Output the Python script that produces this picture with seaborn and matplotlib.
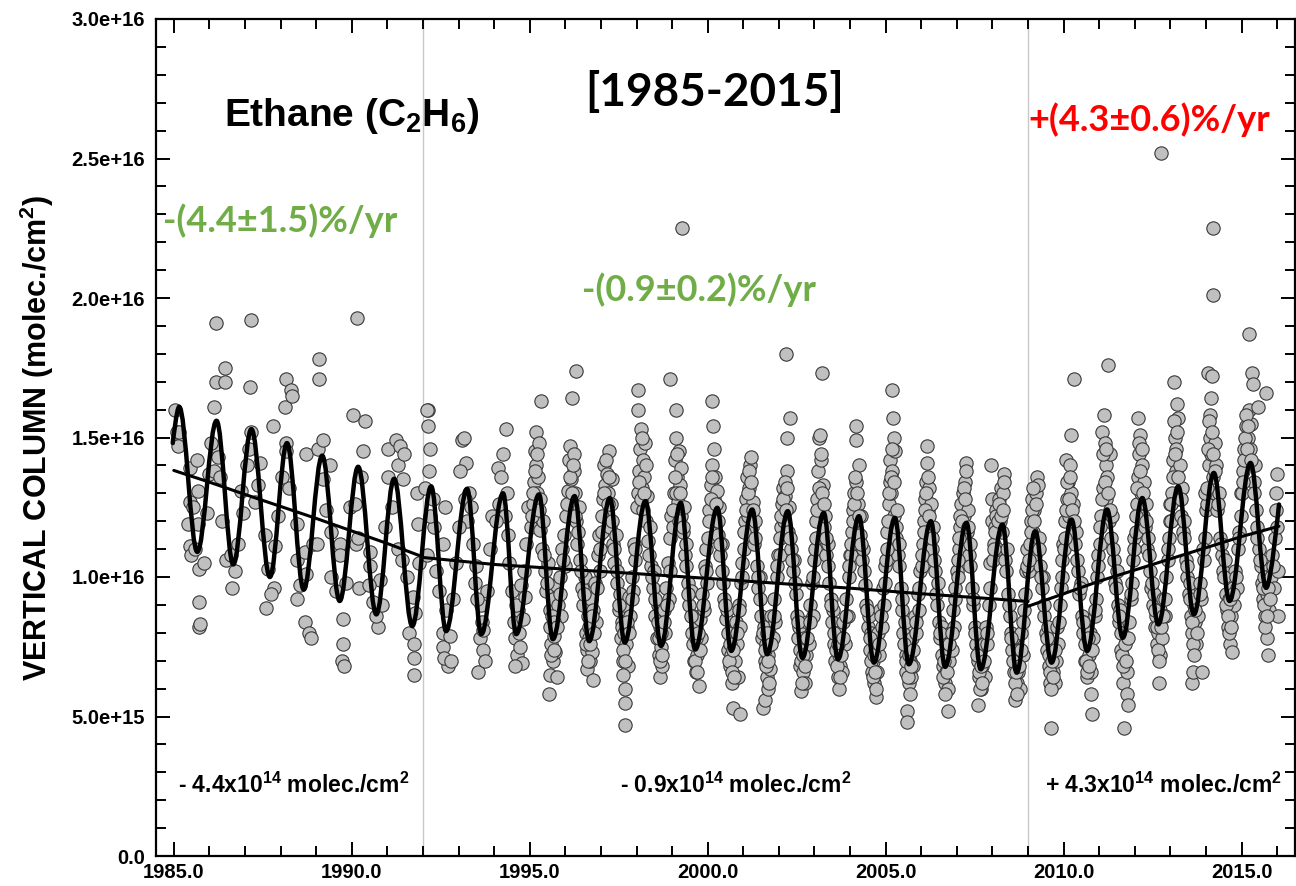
import matplotlib
matplotlib.use("Agg")
import matplotlib.pyplot as plt
from matplotlib.path import Path
from matplotlib.patches import PathPatch
from matplotlib.ticker import MultipleLocator
import pandas as pd
import seaborn as sns

sns.set_theme(style="ticks")
plt.rcParams["font.family"] = ["Liberation Sans", "DejaVu Sans"]
plt.rcParams["mathtext.fontset"] = "custom"
plt.rcParams["mathtext.rm"] = "Liberation Sans:bold"
plt.rcParams["mathtext.it"] = "Liberation Sans:bold"
plt.rcParams["mathtext.bf"] = "Liberation Sans:bold"
plt.rcParams["text.color"] = "black"
plt.rcParams["axes.labelcolor"] = "black"
plt.rcParams["xtick.color"] = "black"
plt.rcParams["ytick.color"] = "black"

# ethane vertical columns, units of 1e16 molec./cm2 (decimal year, value)
obs_1985_1991 = [
    (1985.03, 1.60), (1985.08, 1.52), (1985.15, 1.52), (1985.12, 1.47), (1985.40, 1.19),
    (1985.45, 1.39), (1985.45, 1.27), (1985.45, 1.11), (1985.47, 1.08), (1985.66, 1.42),
    (1985.68, 1.31), (1985.68, 1.19), (1985.70, 1.03), (1985.70, 0.91), (1985.70, 0.82),
    (1985.73, 0.83), (1985.60, 1.10), (1985.55, 1.25), (1985.85, 1.05), (1985.92, 1.23),
    (1985.98, 1.37),
    (1986.13, 1.61), (1986.14, 1.47), (1986.13, 1.38), (1986.25, 1.43), (1986.18, 1.91),
    (1986.18, 1.70), (1986.43, 1.70), (1986.45, 1.75), (1986.46, 1.06), (1986.64, 0.96),
    (1986.60, 1.08), (1986.72, 1.02), (1986.95, 1.23), (1986.30, 1.36), (1986.35, 1.20),
    (1986.80, 1.12), (1986.05, 1.48), (1986.90, 1.31),
    (1987.13, 1.68), (1987.18, 1.92), (1987.10, 1.46), (1987.18, 1.52), (1987.42, 1.41),
    (1987.37, 1.33), (1987.79, 1.54), (1987.81, 0.96), (1987.84, 1.11), (1987.65, 1.03),
    (1987.72, 0.94), (1987.55, 1.15), (1987.28, 1.27), (1987.05, 1.40), (1987.92, 1.22),
    (1987.60, 0.89),
    (1988.12, 1.61), (1988.16, 1.48), (1988.15, 1.45), (1988.15, 1.71), (1988.30, 1.67),
    (1988.31, 1.65), (1988.71, 1.44), (1988.45, 1.19), (1988.45, 1.06), (1988.45, 0.92),
    (1988.68, 1.09), (1988.68, 0.84), (1988.80, 0.80), (1988.72, 1.01), (1988.55, 0.97),
    (1988.25, 1.32), (1988.90, 1.12), (1988.05, 1.36), (1988.85, 0.78),
    (1989.05, 1.46), (1989.19, 1.49), (1989.07, 1.78), (1989.07, 1.71), (1989.38, 1.40),
    (1989.19, 1.35), (1989.01, 1.12), (1989.43, 1.16), (1989.66, 1.12), (1989.66, 1.08),
    (1989.43, 1.00), (1989.74, 0.85), (1989.72, 0.70), (1989.74, 0.76), (1989.78, 0.68),
    (1989.55, 0.95), (1989.85, 0.98), (1989.95, 1.25), (1989.28, 1.24),
    (1990.15, 1.93), (1990.04, 1.58), (1990.37, 1.56), (1990.32, 1.45), (1990.08, 1.26),
    (1990.13, 1.12), (1990.18, 1.14), (1990.20, 0.96), (1990.50, 1.09), (1990.50, 1.04),
    (1990.79, 0.99), (1990.49, 0.97), (1990.74, 0.82), (1990.68, 0.86), (1990.85, 0.90),
    (1990.25, 1.36), (1990.92, 1.18), (1990.60, 0.91),
    (1991.02, 1.46), (1991.25, 1.49), (1991.30, 1.40), (1991.02, 1.36), (1991.44, 1.35),
    (1991.82, 1.30), (1991.85, 1.19), (1991.30, 1.10), (1991.40, 1.06), (1991.54, 1.00),
    (1991.72, 0.93), (1991.77, 0.87), (1991.61, 0.80), (1991.74, 0.71), (1991.74, 0.65),
    (1991.74, 0.76), (1991.12, 1.25), (1991.90, 1.05), (1991.35, 1.47), (1991.48, 1.44),
]

obs_1992_1996 = [
    (1992.14, 1.60), (1992.15, 1.54), (1992.19, 1.46), (1992.17, 1.38), (1992.12, 1.60),
    (1992.10, 1.08), (1992.38, 1.02), (1992.56, 1.12), (1992.61, 1.25), (1992.56, 0.80),
    (1992.56, 0.75), (1992.70, 0.68), (1992.58, 0.71), (1992.78, 0.70), (1992.05, 1.32),
    (1992.28, 1.28), (1992.32, 1.18), (1992.45, 0.95), (1992.66, 0.88), (1992.85, 0.92),
    (1992.92, 1.05), (1992.20, 1.22), (1992.75, 0.79),
    (1993.10, 1.49), (1993.20, 1.41), (1993.15, 1.50), (1993.05, 1.38), (1993.30, 1.30),
    (1993.25, 1.20), (1993.40, 1.12), (1993.48, 1.04), (1993.56, 0.66), (1993.60, 0.78),
    (1993.66, 0.84), (1993.70, 0.74), (1993.62, 0.90), (1993.80, 0.95), (1993.88, 1.10),
    (1993.95, 1.22), (1993.18, 1.28), (1993.35, 1.25), (1993.52, 0.92), (1993.75, 0.70),
    (1993.45, 0.98), (1993.02, 1.18), (1993.68, 0.81),
    (1994.33, 1.53), (1994.25, 1.44), (1994.10, 1.39), (1994.20, 1.36), (1994.15, 1.26),
    (1994.30, 1.22), (1994.38, 1.15), (1994.42, 1.05), (1994.50, 0.95), (1994.55, 0.84),
    (1994.60, 0.78), (1994.65, 0.72), (1994.70, 0.80), (1994.78, 0.69), (1994.68, 0.88),
    (1994.75, 0.97), (1994.85, 1.02), (1994.90, 1.12), (1994.95, 1.25), (1994.05, 1.20),
    (1994.58, 0.68), (1994.62, 0.90), (1994.80, 0.85), (1994.35, 1.30), (1994.88, 0.93),
    (1994.72, 0.75),
    (1995.04, 1.18), (1995.08, 1.26), (1995.12, 1.34), (1995.15, 1.45), (1995.18, 1.52),
    (1995.19, 1.40), (1995.20, 1.30), (1995.22, 1.22), (1995.24, 1.36), (1995.26, 1.48),
    (1995.28, 1.17), (1995.30, 1.28), (1995.33, 1.63), (1995.35, 1.10), (1995.38, 1.20),
    (1995.42, 1.02), (1995.46, 0.95), (1995.50, 1.05), (1995.54, 0.58), (1995.56, 0.65),
    (1995.58, 0.88), (1995.60, 0.76), (1995.62, 0.82), (1995.64, 0.70), (1995.66, 0.92),
    (1995.68, 0.79), (1995.70, 0.73), (1995.72, 0.85), (1995.74, 0.97), (1995.76, 0.64),
    (1995.80, 0.90), (1995.84, 1.00), (1995.88, 0.86), (1995.92, 1.10), (1995.96, 1.15),
    (1995.98, 1.04),
    (1996.03, 1.22), (1996.07, 1.31), (1996.10, 1.42), (1996.14, 1.47), (1996.17, 1.35),
    (1996.20, 1.64), (1996.21, 1.26), (1996.23, 1.44), (1996.25, 1.38), (1996.27, 1.30),
    (1996.29, 1.74), (1996.31, 1.20), (1996.34, 1.12), (1996.38, 1.25), (1996.42, 1.06),
    (1996.46, 0.96), (1996.50, 0.90), (1996.54, 1.00), (1996.57, 0.80), (1996.60, 0.67),
    (1996.62, 0.74), (1996.64, 0.86), (1996.66, 0.78), (1996.69, 0.70), (1996.71, 0.92),
    (1996.73, 0.81), (1996.77, 0.63), (1996.79, 0.88), (1996.83, 0.98), (1996.87, 0.84),
    (1996.91, 1.08), (1996.95, 1.15), (1996.98, 1.02), (1996.75, 0.73),
]

obs_1997_2001 = [
    (1997.03, 1.16), (1997.06, 1.28), (1997.09, 1.40), (1997.11, 1.33), (1997.14, 1.22),
    (1997.17, 1.37), (1997.20, 1.30), (1997.23, 1.45), (1997.25, 1.18), (1997.28, 1.26),
    (1997.31, 1.35), (1997.34, 1.12), (1997.38, 1.05), (1997.42, 1.15), (1997.46, 0.98),
    (1997.50, 0.88), (1997.54, 0.94), (1997.57, 0.78), (1997.60, 0.84), (1997.63, 0.70),
    (1997.65, 0.90), (1997.67, 0.55), (1997.67, 0.47), (1997.68, 0.60), (1997.70, 0.76),
    (1997.72, 0.82), (1997.75, 0.68), (1997.78, 0.93), (1997.82, 0.86), (1997.86, 1.00),
    (1997.90, 0.95), (1997.94, 1.12), (1997.97, 1.06), (1997.61, 0.65),
    (1998.02, 1.25), (1998.04, 1.60), (1998.05, 1.67), (1998.07, 1.38), (1998.10, 1.46),
    (1998.13, 1.53), (1998.15, 1.32), (1998.17, 1.42), (1998.19, 1.24), (1998.22, 1.36),
    (1998.25, 1.48), (1998.27, 1.20), (1998.30, 1.29), (1998.33, 1.13), (1998.37, 1.18),
    (1998.41, 1.04), (1998.45, 0.96), (1998.49, 1.02), (1998.53, 0.86), (1998.57, 0.78),
    (1998.60, 0.90), (1998.63, 0.72), (1998.65, 0.64), (1998.67, 0.82), (1998.70, 0.75),
    (1998.73, 0.68), (1998.76, 0.88), (1998.80, 0.80), (1998.84, 0.96), (1998.88, 1.05),
    (1998.91, 0.92), (1998.93, 1.71), (1998.95, 1.14), (1998.98, 1.22),
    (1999.02, 1.18), (1999.05, 1.30), (1999.08, 1.42), (1999.10, 1.50), (1999.12, 1.60),
    (1999.14, 1.36), (1999.16, 1.27), (1999.19, 1.45), (1999.21, 1.33), (1999.24, 1.22),
    (1999.26, 1.39), (1999.28, 2.25), (1999.30, 1.16), (1999.33, 1.25), (1999.36, 1.08),
    (1999.40, 1.12), (1999.44, 0.98), (1999.48, 0.90), (1999.52, 0.95), (1999.55, 0.80),
    (1999.58, 0.86), (1999.61, 0.70), (1999.63, 0.76), (1999.66, 0.66), (1999.68, 0.82),
    (1999.71, 0.72), (1999.75, 0.61), (1999.77, 0.85), (1999.81, 0.78), (1999.85, 0.94),
    (1999.89, 0.88), (1999.93, 1.04), (1999.96, 1.10), (1999.99, 0.98),
    (2000.02, 1.14), (2000.05, 1.24), (2000.08, 1.33), (2000.11, 1.40), (2000.12, 1.63),
    (2000.15, 1.54), (2000.17, 1.28), (2000.20, 1.36), (2000.23, 1.20), (2000.26, 1.31),
    (2000.29, 1.15), (2000.32, 1.25), (2000.35, 1.08), (2000.39, 1.12), (2000.43, 0.98),
    (2000.47, 0.92), (2000.51, 0.85), (2000.55, 0.88), (2000.58, 0.74), (2000.61, 0.80),
    (2000.63, 0.68), (2000.66, 0.72), (2000.68, 0.62), (2000.71, 0.53), (2000.73, 0.78),
    (2000.76, 0.70), (2000.79, 0.84), (2000.83, 0.76), (2000.87, 0.90), (2000.90, 0.82),
    (2000.92, 0.51), (2000.94, 0.98), (2000.97, 1.05), (2000.85, 0.64),
    (2001.02, 1.10), (2001.05, 1.20), (2001.08, 1.28), (2001.11, 1.36), (2001.14, 1.22),
    (2001.17, 1.32), (2001.20, 1.40), (2001.23, 1.43), (2001.25, 1.18), (2001.28, 1.27),
    (2001.31, 1.12), (2001.34, 1.20), (2001.38, 1.04), (2001.42, 0.96), (2001.46, 1.00),
    (2001.50, 0.86), (2001.53, 0.78), (2001.55, 0.53), (2001.58, 0.82), (2001.60, 0.56),
    (2001.62, 0.70), (2001.65, 0.76), (2001.67, 0.64), (2001.70, 0.72), (2001.73, 0.80),
    (2001.76, 0.67), (2001.79, 0.86), (2001.83, 0.78), (2001.87, 0.92), (2001.90, 0.84),
    (2001.94, 1.00), (2001.97, 1.08), (2001.68, 0.60),
]

obs_2002_2006 = [
    (2002.02, 1.08), (2002.05, 1.18), (2002.08, 1.26), (2002.11, 1.32), (2002.14, 1.20),
    (2002.17, 1.29), (2002.20, 1.80), (2002.22, 1.38), (2002.23, 1.50), (2002.26, 1.16),
    (2002.29, 1.25), (2002.32, 1.57), (2002.35, 1.10), (2002.39, 1.02), (2002.43, 1.06),
    (2002.47, 0.94), (2002.51, 0.86), (2002.54, 0.78), (2002.57, 0.82), (2002.60, 0.68),
    (2002.63, 0.59), (2002.65, 0.74), (2002.68, 0.66), (2002.71, 0.78), (2002.74, 0.62),
    (2002.77, 0.72), (2002.80, 0.84), (2002.84, 0.76), (2002.88, 0.90), (2002.92, 0.98),
    (2002.95, 0.86), (2002.98, 1.06),
    (2003.02, 1.10), (2003.05, 1.20), (2003.08, 1.28), (2003.11, 1.38), (2003.14, 1.50),
    (2003.16, 1.51), (2003.18, 1.42), (2003.20, 1.73), (2003.22, 1.25), (2003.24, 1.33),
    (2003.27, 1.18), (2003.30, 1.22), (2003.33, 1.08), (2003.37, 1.12), (2003.41, 0.98),
    (2003.45, 0.92), (2003.49, 0.84), (2003.53, 0.88), (2003.56, 0.76), (2003.59, 0.70),
    (2003.62, 0.80), (2003.65, 0.64), (2003.68, 0.72), (2003.70, 0.60), (2003.72, 0.68),
    (2003.75, 0.78), (2003.78, 0.66), (2003.81, 0.84), (2003.85, 0.76), (2003.89, 0.92),
    (2003.93, 0.86), (2003.96, 1.00), (2003.99, 1.08),
    (2004.02, 1.08), (2004.05, 1.16), (2004.08, 1.24), (2004.11, 1.30), (2004.14, 1.20),
    (2004.16, 1.49), (2004.17, 1.54), (2004.18, 1.34), (2004.21, 1.26), (2004.24, 1.40),
    (2004.27, 1.15), (2004.30, 1.22), (2004.33, 1.06), (2004.37, 1.10), (2004.41, 0.97),
    (2004.45, 0.90), (2004.49, 0.82), (2004.53, 0.86), (2004.56, 0.74), (2004.59, 0.80),
    (2004.62, 0.66), (2004.65, 0.70), (2004.68, 0.62), (2004.70, 0.76), (2004.72, 0.57),
    (2004.75, 0.66), (2004.78, 0.80), (2004.81, 0.72), (2004.85, 0.88), (2004.89, 0.82),
    (2004.93, 0.96), (2004.96, 0.90), (2004.99, 1.04),
    (2005.02, 1.06), (2005.05, 1.16), (2005.08, 1.26), (2005.11, 1.34), (2005.13, 1.42),
    (2005.15, 1.30), (2005.17, 1.67), (2005.19, 1.38), (2005.21, 1.57), (2005.22, 1.50),
    (2005.24, 1.22), (2005.26, 1.45), (2005.28, 1.14), (2005.31, 1.24), (2005.34, 1.08),
    (2005.38, 1.12), (2005.42, 0.96), (2005.46, 0.88), (2005.50, 0.80), (2005.53, 0.84),
    (2005.56, 0.72), (2005.58, 0.66), (2005.60, 0.52), (2005.61, 0.48), (2005.63, 0.76),
    (2005.66, 0.62), (2005.69, 0.70), (2005.72, 0.64), (2005.75, 0.78), (2005.78, 0.68),
    (2005.82, 0.86), (2005.86, 0.80), (2005.90, 0.94), (2005.94, 0.88), (2005.97, 1.02),
    (2006.02, 1.04), (2006.05, 1.12), (2006.08, 1.20), (2006.11, 1.28), (2006.13, 1.34),
    (2006.15, 1.41), (2006.17, 1.47), (2006.19, 1.24), (2006.22, 1.32), (2006.25, 1.16),
    (2006.28, 1.26), (2006.31, 1.10), (2006.34, 1.18), (2006.38, 1.02), (2006.42, 0.94),
    (2006.46, 0.98), (2006.50, 0.84), (2006.54, 0.78), (2006.57, 0.82), (2006.60, 0.68),
    (2006.63, 0.72), (2006.66, 0.62), (2006.69, 0.66), (2006.72, 0.74), (2006.74, 0.60),
    (2006.76, 0.52), (2006.79, 0.70), (2006.82, 0.80), (2006.86, 0.74), (2006.90, 0.88),
    (2006.93, 0.82), (2006.96, 0.96), (2006.99, 1.02),
]

obs_2007_2011 = [
    (2007.02, 1.00), (2007.05, 1.10), (2007.08, 1.18), (2007.11, 1.26), (2007.14, 1.14),
    (2007.17, 1.30), (2007.20, 1.22), (2007.23, 1.34), (2007.26, 1.41), (2007.27, 1.38),
    (2007.28, 1.16), (2007.31, 1.24), (2007.34, 1.08), (2007.38, 1.12), (2007.42, 0.96),
    (2007.46, 0.90), (2007.50, 0.82), (2007.54, 0.76), (2007.58, 0.54), (2007.60, 0.70),
    (2007.63, 0.64), (2007.66, 0.74), (2007.69, 0.60), (2007.72, 0.68), (2007.75, 0.76),
    (2007.78, 0.64), (2007.82, 0.82), (2007.86, 0.76), (2007.90, 0.90), (2007.93, 1.05),
    (2007.96, 1.40), (2007.98, 1.20), (2007.99, 1.28),
    (2008.02, 1.06), (2008.05, 1.12), (2008.08, 1.18), (2008.11, 1.24), (2008.14, 1.10),
    (2008.17, 1.28), (2008.20, 1.20), (2008.23, 1.32), (2008.26, 1.16), (2008.29, 1.30),
    (2008.32, 1.37), (2008.33, 1.34), (2008.36, 1.06), (2008.40, 1.10), (2008.44, 0.94),
    (2008.48, 0.86), (2008.52, 0.80), (2008.55, 0.74), (2008.58, 0.78), (2008.61, 0.66),
    (2008.64, 0.56), (2008.66, 0.70), (2008.69, 0.62), (2008.72, 0.66), (2008.75, 0.74),
    (2008.78, 0.60), (2008.81, 0.80), (2008.85, 0.72), (2008.89, 0.88), (2008.92, 0.94),
    (2008.95, 1.02), (2008.98, 1.10),
    (2009.02, 1.02), (2009.05, 1.12), (2009.08, 1.20), (2009.11, 1.28), (2009.14, 1.16),
    (2009.17, 1.24), (2009.20, 1.08), (2009.23, 1.30), (2009.26, 1.36), (2009.28, 1.33),
    (2009.31, 1.14), (2009.34, 1.04), (2009.38, 0.96), (2009.42, 1.00), (2009.46, 0.86),
    (2009.50, 0.80), (2009.53, 0.74), (2009.56, 0.82), (2009.59, 0.68), (2009.62, 0.62),
    (2009.64, 0.46), (2009.66, 0.72), (2009.69, 0.66), (2009.72, 0.76), (2009.75, 0.62),
    (2009.78, 0.70), (2009.81, 0.82), (2009.85, 0.76), (2009.89, 0.90), (2009.92, 0.96),
    (2009.95, 1.06), (2009.98, 1.12),
    (2010.02, 1.10), (2010.05, 1.20), (2010.06, 1.42), (2010.09, 1.28), (2010.12, 1.34),
    (2010.15, 1.22), (2010.17, 1.40), (2010.20, 1.30), (2010.22, 1.51), (2010.25, 1.18),
    (2010.27, 1.26), (2010.29, 1.71), (2010.32, 1.12), (2010.36, 1.16), (2010.40, 1.02),
    (2010.44, 0.94), (2010.48, 0.98), (2010.52, 0.86), (2010.55, 0.80), (2010.58, 0.84),
    (2010.61, 0.70), (2010.64, 0.76), (2010.67, 0.64), (2010.70, 0.72), (2010.73, 0.80),
    (2010.76, 0.66), (2010.78, 0.58), (2010.80, 0.51), (2010.83, 0.78), (2010.87, 0.86),
    (2010.90, 0.92), (2010.94, 1.00), (2010.97, 1.08),
    (2011.02, 1.12), (2011.05, 1.22), (2011.08, 1.52), (2011.10, 1.32), (2011.13, 1.58),
    (2011.16, 1.48), (2011.18, 1.40), (2011.20, 1.28), (2011.23, 1.36), (2011.25, 1.76),
    (2011.27, 1.20), (2011.30, 1.44), (2011.33, 1.14), (2011.37, 1.22), (2011.41, 1.06),
    (2011.45, 0.98), (2011.49, 1.02), (2011.53, 0.90), (2011.56, 0.84), (2011.59, 0.88),
    (2011.62, 0.74), (2011.65, 0.80), (2011.67, 0.62), (2011.69, 0.46), (2011.71, 0.70),
    (2011.74, 0.78), (2011.77, 0.66), (2011.79, 0.58), (2011.81, 0.54), (2011.84, 0.84),
    (2011.88, 0.92), (2011.92, 0.98), (2011.96, 1.06), (2011.99, 1.14),
]

obs_2012_2016 = [
    (2012.02, 1.16), (2012.05, 1.26), (2012.08, 1.36), (2012.10, 1.57), (2012.12, 1.44),
    (2012.14, 1.51), (2012.17, 1.30), (2012.20, 1.40), (2012.22, 1.22), (2012.25, 1.34),
    (2012.28, 1.18), (2012.31, 1.26), (2012.34, 1.10), (2012.38, 1.14), (2012.42, 1.02),
    (2012.46, 0.96), (2012.50, 0.90), (2012.54, 0.94), (2012.57, 0.82), (2012.60, 0.86),
    (2012.63, 0.76), (2012.66, 0.80), (2012.68, 0.62), (2012.70, 0.72), (2012.72, 0.88),
    (2012.74, 2.52), (2012.77, 0.78), (2012.80, 0.92), (2012.84, 0.86), (2012.88, 1.00),
    (2012.92, 1.06), (2012.96, 1.14), (2012.99, 1.20),
    (2013.02, 1.20), (2013.05, 1.30), (2013.08, 1.42), (2013.10, 1.70), (2013.12, 1.50),
    (2013.15, 1.38), (2013.17, 1.46), (2013.19, 1.62), (2013.20, 1.57), (2013.23, 1.28),
    (2013.26, 1.40), (2013.29, 1.22), (2013.32, 1.32), (2013.35, 1.16), (2013.39, 1.20),
    (2013.43, 1.06), (2013.47, 1.00), (2013.51, 0.94), (2013.55, 0.98), (2013.58, 0.86),
    (2013.60, 0.80), (2013.62, 0.62), (2013.63, 0.66), (2013.65, 0.90), (2013.68, 0.84),
    (2013.71, 0.76), (2013.74, 0.92), (2013.78, 0.86), (2013.82, 0.98), (2013.86, 0.92),
    (2013.90, 0.66), (2013.93, 1.06), (2013.96, 1.14), (2013.99, 1.24),
    (2014.02, 1.26), (2014.05, 1.73), (2014.07, 1.40), (2014.10, 1.50), (2014.12, 1.58),
    (2014.14, 1.44), (2014.17, 1.72), (2014.19, 2.25), (2014.19, 2.01), (2014.21, 1.36),
    (2014.24, 1.48), (2014.26, 1.30), (2014.29, 1.40), (2014.32, 1.24), (2014.36, 1.30),
    (2014.40, 1.14), (2014.44, 1.08), (2014.48, 1.02), (2014.52, 1.06), (2014.55, 0.94),
    (2014.58, 0.88), (2014.61, 0.82), (2014.64, 0.92), (2014.66, 0.76), (2014.69, 0.86),
    (2014.72, 0.73), (2014.75, 0.96), (2014.78, 0.90), (2014.82, 1.02), (2014.86, 0.96),
    (2014.90, 1.10), (2014.94, 1.16), (2014.97, 1.22), (2014.99, 1.30),
    (2015.02, 1.30), (2015.05, 1.38), (2015.08, 1.46), (2015.11, 1.54), (2015.14, 1.42),
    (2015.17, 1.50), (2015.20, 1.60), (2015.22, 1.87), (2015.24, 1.46), (2015.27, 1.55),
    (2015.30, 1.73), (2015.32, 1.69), (2015.34, 1.34), (2015.37, 1.40), (2015.41, 1.24),
    (2015.44, 1.18), (2015.47, 1.61), (2015.50, 1.10), (2015.54, 1.04), (2015.57, 0.98),
    (2015.60, 0.92), (2015.63, 1.00), (2015.66, 0.86), (2015.69, 1.66), (2015.70, 0.78),
    (2015.72, 0.94), (2015.75, 0.72), (2015.78, 0.88), (2015.82, 1.00), (2015.86, 1.08),
    (2015.90, 0.96), (2015.94, 1.14), (2015.97, 1.24), (2016.00, 1.37), (2016.00, 1.18),
    (2016.01, 1.02), (2016.01, 0.86),
]

# denser measurement blobs hugging the seasonal cycle, 1995-2005
obs_dense_1995_2005 = [
    (1995.06, 1.22), (1995.10, 1.30), (1995.16, 1.38), (1995.21, 1.44), (1995.27, 1.24),
    (1995.40, 1.08), (1995.48, 0.98), (1995.57, 0.82), (1995.61, 0.72), (1995.63, 0.86),
    (1995.67, 0.74), (1995.69, 0.84), (1995.78, 0.82), (1995.86, 0.94), (1995.94, 1.06),
    (1996.05, 1.26), (1996.12, 1.36), (1996.18, 1.30), (1996.22, 1.40), (1996.26, 1.22),
    (1996.36, 1.16), (1996.44, 1.02), (1996.52, 0.94), (1996.59, 0.76), (1996.63, 0.70),
    (1996.67, 0.82), (1996.70, 0.76), (1996.74, 0.86), (1996.81, 0.80), (1996.89, 0.96),
    (1996.97, 1.10),
    (1997.04, 1.22), (1997.10, 1.30), (1997.15, 1.42), (1997.19, 1.26), (1997.24, 1.36),
    (1997.30, 1.20), (1997.36, 1.10), (1997.44, 1.02), (1997.52, 0.90), (1997.58, 0.82),
    (1997.62, 0.74), (1997.66, 0.80), (1997.69, 0.70), (1997.74, 0.84), (1997.80, 0.80),
    (1997.88, 0.92), (1997.96, 1.10),
    (1998.03, 1.30), (1998.08, 1.34), (1998.12, 1.28), (1998.16, 1.50), (1998.21, 1.30),
    (1998.28, 1.40), (1998.35, 1.08), (1998.43, 1.00), (1998.51, 0.92), (1998.59, 0.84),
    (1998.62, 0.78), (1998.66, 0.70), (1998.69, 0.80), (1998.72, 0.72), (1998.78, 0.84),
    (1998.86, 0.90), (1998.94, 1.02),
    (1999.03, 1.24), (1999.07, 1.36), (1999.11, 1.30), (1999.15, 1.44), (1999.18, 1.20),
    (1999.23, 1.30), (1999.32, 1.18), (1999.38, 1.04), (1999.46, 0.94), (1999.54, 0.86),
    (1999.60, 0.76), (1999.64, 0.70), (1999.67, 0.78), (1999.70, 0.66), (1999.73, 0.80),
    (1999.79, 0.74), (1999.87, 0.90), (1999.95, 1.02),
    (2000.04, 1.20), (2000.09, 1.28), (2000.13, 1.36), (2000.18, 1.46), (2000.22, 1.26),
    (2000.28, 1.20), (2000.34, 1.12), (2000.41, 1.02), (2000.49, 0.90), (2000.56, 0.80),
    (2000.60, 0.70), (2000.64, 0.76), (2000.67, 0.66), (2000.70, 0.74), (2000.74, 0.64),
    (2000.81, 0.80), (2000.89, 0.88), (2000.96, 1.00),
    (2001.03, 1.16), (2001.07, 1.24), (2001.12, 1.30), (2001.16, 1.38), (2001.21, 1.34),
    (2001.26, 1.24), (2001.33, 1.14), (2001.40, 1.00), (2001.48, 0.92), (2001.56, 0.80),
    (2001.61, 0.74), (2001.64, 0.68), (2001.66, 0.80), (2001.69, 0.70), (2001.72, 0.62),
    (2001.78, 0.76), (2001.86, 0.86), (2001.95, 1.04),
    (2002.03, 1.14), (2002.07, 1.22), (2002.12, 1.28), (2002.16, 1.34), (2002.19, 1.24),
    (2002.24, 1.32), (2002.31, 1.14), (2002.37, 1.06), (2002.45, 0.98), (2002.53, 0.84),
    (2002.59, 0.74), (2002.62, 0.70), (2002.66, 0.62), (2002.69, 0.72), (2002.73, 0.68),
    (2002.79, 0.78), (2002.87, 0.84), (2002.96, 1.00),
    (2003.03, 1.14), (2003.07, 1.24), (2003.12, 1.32), (2003.17, 1.44), (2003.21, 1.30),
    (2003.26, 1.26), (2003.32, 1.14), (2003.39, 1.04), (2003.47, 0.90), (2003.55, 0.80),
    (2003.60, 0.74), (2003.64, 0.68), (2003.67, 0.76), (2003.71, 0.64), (2003.74, 0.72),
    (2003.80, 0.78), (2003.88, 0.86), (2003.97, 1.04),
    (2004.03, 1.12), (2004.07, 1.20), (2004.12, 1.26), (2004.15, 1.36), (2004.20, 1.30),
    (2004.25, 1.22), (2004.32, 1.12), (2004.39, 1.02), (2004.47, 0.88), (2004.55, 0.78),
    (2004.60, 0.70), (2004.64, 0.64), (2004.67, 0.72), (2004.71, 0.66), (2004.74, 0.60),
    (2004.80, 0.76), (2004.88, 0.86), (2004.97, 0.98),
    (2005.03, 1.10), (2005.07, 1.20), (2005.10, 1.30), (2005.14, 1.36), (2005.18, 1.46),
    (2005.23, 1.34), (2005.30, 1.18), (2005.37, 1.04), (2005.45, 0.92), (2005.52, 0.76),
    (2005.57, 0.70), (2005.62, 0.64), (2005.65, 0.72), (2005.68, 0.58), (2005.71, 0.68),
    (2005.77, 0.74), (2005.85, 0.84), (2005.95, 0.96),
]

# denser measurement blobs, 2006-2015
obs_dense_2006_2015 = [
    (2006.03, 1.08), (2006.07, 1.16), (2006.10, 1.24), (2006.14, 1.30), (2006.18, 1.36),
    (2006.23, 1.22), (2006.30, 1.14), (2006.37, 1.06), (2006.45, 0.90), (2006.52, 0.80),
    (2006.58, 0.72), (2006.62, 0.64), (2006.65, 0.70), (2006.68, 0.58), (2006.71, 0.66),
    (2006.77, 0.76), (2006.85, 0.80), (2006.95, 0.92),
    (2007.03, 1.06), (2007.07, 1.14), (2007.10, 1.22), (2007.15, 1.20), (2007.19, 1.32),
    (2007.24, 1.28), (2007.30, 1.18), (2007.37, 1.04), (2007.45, 0.92), (2007.52, 0.80),
    (2007.57, 0.72), (2007.62, 0.66), (2007.65, 0.60), (2007.68, 0.68), (2007.71, 0.62),
    (2007.77, 0.70), (2007.85, 0.80), (2007.92, 0.96),
    (2008.03, 1.10), (2008.07, 1.16), (2008.10, 1.22), (2008.15, 1.20), (2008.19, 1.26),
    (2008.24, 1.22), (2008.30, 1.24), (2008.38, 1.02), (2008.46, 0.90), (2008.53, 0.78),
    (2008.59, 0.70), (2008.63, 0.62), (2008.67, 0.66), (2008.70, 0.58), (2008.74, 0.68),
    (2008.80, 0.74), (2008.87, 0.84), (2008.96, 1.04),
    (2009.03, 1.06), (2009.07, 1.16), (2009.10, 1.24), (2009.13, 1.32), (2009.18, 1.20),
    (2009.22, 1.26), (2009.30, 1.10), (2009.37, 1.00), (2009.44, 0.90), (2009.52, 0.78),
    (2009.58, 0.72), (2009.61, 0.66), (2009.65, 0.60), (2009.68, 0.70), (2009.71, 0.64),
    (2009.77, 0.74), (2009.86, 0.84), (2009.96, 1.00),
    (2010.03, 1.14), (2010.07, 1.24), (2010.10, 1.34), (2010.14, 1.28), (2010.18, 1.36),
    (2010.23, 1.24), (2010.30, 1.20), (2010.38, 1.06), (2010.46, 0.96), (2010.54, 0.84),
    (2010.60, 0.76), (2010.63, 0.70), (2010.66, 0.66), (2010.69, 0.78), (2010.72, 0.68),
    (2010.79, 0.74), (2010.88, 0.88), (2010.96, 1.04),
    (2011.03, 1.18), (2011.07, 1.28), (2011.11, 1.44), (2011.15, 1.34), (2011.19, 1.46),
    (2011.24, 1.30), (2011.31, 1.24), (2011.39, 1.10), (2011.47, 0.96), (2011.55, 0.86),
    (2011.61, 0.80), (2011.64, 0.72), (2011.68, 0.68), (2011.72, 0.76), (2011.75, 0.70),
    (2011.82, 0.78), (2011.90, 0.94), (2011.98, 1.10),
    (2012.03, 1.22), (2012.07, 1.32), (2012.11, 1.48), (2012.15, 1.38), (2012.19, 1.46),
    (2012.24, 1.30), (2012.32, 1.20), (2012.40, 1.08), (2012.48, 0.98), (2012.56, 0.88),
    (2012.62, 0.82), (2012.65, 0.74), (2012.69, 0.70), (2012.73, 0.82), (2012.78, 0.86),
    (2012.85, 0.92), (2012.94, 1.10), (2012.98, 1.26),
    (2013.03, 1.26), (2013.07, 1.36), (2013.11, 1.56), (2013.14, 1.44), (2013.18, 1.52),
    (2013.22, 1.36), (2013.30, 1.28), (2013.38, 1.14), (2013.46, 1.04), (2013.54, 0.92),
    (2013.61, 0.84), (2013.64, 0.76), (2013.67, 0.72), (2013.70, 0.88), (2013.76, 0.80),
    (2013.84, 0.94), (2013.92, 1.10), (2013.98, 1.30),
    (2014.03, 1.32), (2014.06, 1.46), (2014.09, 1.56), (2014.13, 1.64), (2014.16, 1.52),
    (2014.20, 1.44), (2014.25, 1.38), (2014.34, 1.26), (2014.42, 1.12), (2014.50, 1.00),
    (2014.57, 0.90), (2014.62, 0.86), (2014.65, 0.80), (2014.68, 0.92), (2014.71, 0.82),
    (2014.77, 0.94), (2014.84, 1.00), (2014.92, 1.14),
    (2015.03, 1.34), (2015.07, 1.42), (2015.10, 1.50), (2015.13, 1.58), (2015.16, 1.46),
    (2015.19, 1.54), (2015.26, 1.42), (2015.35, 1.30), (2015.43, 1.14), (2015.52, 1.06),
    (2015.59, 0.96), (2015.64, 0.90), (2015.67, 0.82), (2015.71, 0.86), (2015.74, 0.96),
    (2015.80, 0.92), (2015.88, 1.04), (2015.96, 1.30),
]

# seasonal fit: start, alternating maxima / minima, end
seas_t = [1984.97, 1985.15, 1985.66, 1986.20, 1986.67, 1987.18, 1987.70, 1988.18, 1988.65,
          1989.17, 1989.66, 1990.18, 1990.69, 1991.19, 1991.70, 1992.23, 1992.65, 1993.24,
          1993.64, 1994.25, 1994.62, 1995.26, 1995.65, 1996.26, 1996.67, 1997.25, 1997.67,
          1998.25, 1998.69, 1999.24, 1999.65, 2000.27, 2000.66, 2001.25, 2001.67, 2002.25,
          2002.66, 2003.26, 2003.66, 2004.25, 2004.67, 2005.26, 2005.65, 2006.27, 2006.67,
          2007.27, 2007.67, 2008.28, 2008.68, 2009.20, 2009.66, 2010.22, 2010.66, 2011.22,
          2011.66, 2012.21, 2012.66, 2013.22, 2013.66, 2014.22, 2014.66, 2015.25, 2015.69,
          2016.05]
seas_v = [1.48, 1.61, 1.09, 1.56, 1.045, 1.53, 1.00, 1.48, 0.955,
          1.435, 0.914, 1.395, 0.866, 1.352, 0.824, 1.325, 0.806, 1.316,
          0.795, 1.30, 0.795, 1.296, 0.777, 1.29, 0.77, 1.283, 0.765,
          1.272, 0.753, 1.266, 0.74, 1.248, 0.735, 1.242, 0.723, 1.236,
          0.71, 1.23, 0.705, 1.218, 0.693, 1.212, 0.687, 1.20, 0.678,
          1.194, 0.669, 1.188, 0.657, 1.164, 0.693, 1.206, 0.735, 1.242,
          0.782, 1.283, 0.83, 1.325, 0.866, 1.373, 0.914, 1.409, 0.961,
          1.26]

# piecewise trend
trend_t_a = [1985.0, 1986.0, 1987.0, 1988.0, 1989.0, 1990.0, 1991.0, 1992.0]
trend_v_a = [1.382, 1.34, 1.296, 1.253, 1.21, 1.165, 1.12, 1.072]
trend_t_b = [1992.0, 1994.0, 1996.0, 1998.0, 2000.0, 2002.0, 2004.0, 2006.0, 2008.0, 2009.0]
trend_v_b = [1.07, 1.045, 1.028, 1.012, 0.995, 0.977, 0.96, 0.94, 0.922, 0.912]
trend_t_c = [2009.0, 2010.0, 2011.0, 2012.0, 2013.0, 2014.0, 2015.0, 2016.05]
trend_v_c = [0.895, 0.94, 0.985, 1.025, 1.065, 1.105, 1.145, 1.182]

breaks = [1992.0, 2009.0]

x_ticks = [1985, 1990, 1995, 2000, 2005, 2010, 2015]
y_ticks = [0.0, 0.5, 1.0, 1.5, 2.0, 2.5, 3.0]
y_tick_labels = ["0.0", "5.0e+15", "1.0e+16", "1.5e+16", "2.0e+16", "2.5e+16", "3.0e+16"]

green = "#70ad47"

obs = pd.DataFrame(obs_1985_1991 + obs_1992_1996 + obs_1997_2001
                   + obs_2002_2006 + obs_2007_2011 + obs_2012_2016
                   + obs_dense_1995_2005 + obs_dense_2006_2015,
                   columns=["year", "column"])

fig = plt.figure(figsize=(12.96, 8.86), dpi=100)
ax = fig.add_axes([156 / 1296, 1 - 856 / 886, (1295 - 156) / 1296, (856 - 19) / 886])

for b in breaks:
    ax.axvline(b, color="#c8c8c8", lw=1, zorder=0)

sns.scatterplot(data=obs, x="year", y="column", s=92, color="#c0c0c0",
                edgecolor="#383838", linewidth=0.8, ax=ax, zorder=2, legend=False)

# seasonal curve as smooth bezier through the read extrema
verts = [(seas_t[0], seas_v[0])]
codes = [Path.MOVETO]
n = len(seas_t)
for i in range(1, n):
    t0, v0, t1, v1 = seas_t[i - 1], seas_v[i - 1], seas_t[i], seas_v[i]
    d = (t1 - t0) * 0.36
    c1 = (t0, v0) if i == 1 else (t0 + d, v0)
    c2 = (t1, v1) if i == n - 1 else (t1 - d, v1)
    verts += [c1, c2, (t1, v1)]
    codes += [Path.CURVE4] * 3
ax.add_patch(PathPatch(Path(verts, codes), facecolor="none", edgecolor="black",
                       lw=3.2, zorder=4, capstyle="round", joinstyle="round"))

for tt, vv in [(trend_t_a, trend_v_a), (trend_t_b, trend_v_b), (trend_t_c, trend_v_c)]:
    sns.lineplot(x=tt, y=vv, color="black", lw=2.2, ax=ax, sort=False,
                 estimator=None, zorder=5)

ax.set_xlim(1984.5, 2016.5)
ax.set_ylim(0, 3.0)
ax.set_xticks(x_ticks)
ax.set_xticklabels([f"{x:.1f}" for x in x_ticks])
ax.xaxis.set_minor_locator(MultipleLocator(1))
ax.set_yticks(y_ticks)
ax.set_yticklabels(y_tick_labels)
ax.yaxis.set_minor_locator(MultipleLocator(0.1))
ax.tick_params(which="both", direction="in", top=True, right=True, width=1.4,
               color="black", labelcolor="black", labelsize=14.5)
ax.tick_params(which="major", length=10)
ax.tick_params(which="minor", length=7)
ax.tick_params(axis="y", pad=8)
ax.tick_params(axis="x", pad=5)
for lab in ax.get_xticklabels() + ax.get_yticklabels():
    lab.set_fontweight("bold")
for sp in ax.spines.values():
    sp.set_linewidth(1.6)
    sp.set_color("black")

ax.set_xlabel("")
ax.set_ylabel("VERTICAL COLUMN (molec./cm$^2$)", fontsize=22, fontweight="bold",
              color="black")
ax.yaxis.set_label_coords(-0.088, 0.5)

calibri = ["Lato", "DejaVu Sans"]
ax.text(1986.40, 2.616, "Ethane (C$_2$H$_6$)", fontsize=28, fontweight="bold",
        va="baseline", ha="left", color="black")
ax.text(1996.55, 2.738, "[1985-2015]", fontsize=33, fontweight="bold",
        va="center", ha="left", family=calibri, color="black")
ax.text(2009.02, 2.638, "+(4.3±0.6)%/yr", fontsize=26, fontweight="bold",
        color="red", va="center", ha="left", family=calibri)
ax.text(1984.69, 2.276, "-(4.4±1.5)%/yr", fontsize=26, fontweight="bold",
        color=green, va="center", ha="left", family=calibri)
ax.text(1996.46, 2.029, "-(0.9±0.2)%/yr", fontsize=26, fontweight="bold",
        color=green, va="center", ha="left", family=calibri)

ax.text(1985.11, 0.255, "- 4.4x10$^{14}$ molec./cm$^2$", fontsize=16.5,
        fontweight="bold", va="center", ha="left", color="black")
ax.text(1997.53, 0.255, "- 0.9x10$^{14}$ molec./cm$^2$", fontsize=16.5,
        fontweight="bold", va="center", ha="left", color="black")
ax.text(2009.47, 0.255, "+ 4.3x10$^{14}$ molec./cm$^2$", fontsize=16.5,
        fontweight="bold", va="center", ha="left", color="black")

fig.savefig("out.png", dpi=100)
